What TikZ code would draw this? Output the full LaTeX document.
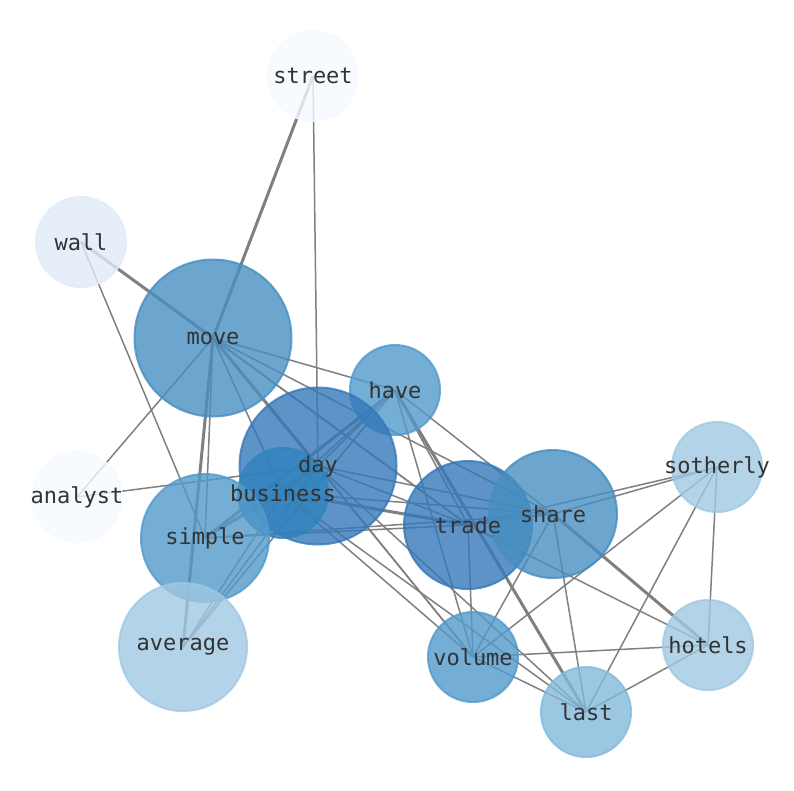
\documentclass[tikz,border=0pt]{standalone}
\usepackage{fontspec}
\setmonofont{DejaVu Sans Mono}
\usetikzlibrary{positioning,backgrounds}

\definecolor{palest}{RGB}{245,250,255}
\definecolor{pale}{RGB}{224,235,248}
\definecolor{light}{RGB}{160,200,226}
\definecolor{lastc}{RGB}{130,185,220}
\definecolor{midc}{RGB}{81,154,203}
\definecolor{movec}{RGB}{71,142,192}
\definecolor{deep}{RGB}{52,120,184}
\definecolor{busc}{RGB}{49,130,189}
\definecolor{edgec}{RGB}{128,128,128}

\begin{document}
\begin{tikzpicture}[x=1pt, y=-1pt]
        % Define styles
        \tikzstyle{word} = [circle, inner sep=0pt, line width=2pt,
            fill opacity=0.8, draw opacity=0.8]
        \tikzstyle{small} = [word, minimum size=90pt]
        \tikzstyle{medium} = [word, minimum size=128pt]
        \tikzstyle{large} = [word, minimum size=157pt]
        \tikzstyle{label} = [font=\ttfamily\fontsize{22}{22}\selectfont, text=black!80]
        \tikzstyle{link} = [draw=edgec, line width=1.5pt]
        \tikzstyle{heavy} = [draw=edgec, line width=3pt]

        \useasboundingbox (0,0) rectangle (794,790);

        % Nodes
        \node [small, fill=palest, draw=palest] (street) at (313,76) {};
        \node [small, fill=pale, draw=pale] (wall) at (81,242) {};
        \node [large, fill=movec, draw=movec] (move) at (213,338) {};
        \node [small, fill=palest, draw=palest] (analyst) at (77,497) {};
        \node [small, fill=midc, draw=midc] (have) at (395,390) {};
        \node [large, fill=deep, draw=deep] (day) at (318,466) {};
        \node [small, fill=busc, draw=busc] (business) at (283,493) {};
        \node [medium, fill=midc, draw=midc] (simple) at (205,538) {};
        \node [medium, fill=light, draw=light] (average) at (183,647) {};
        \node [medium, fill=deep, draw=deep] (trade) at (468,525) {};
        \node [medium, fill=movec, draw=movec] (share) at (553,514) {};
        \node [small, fill=light, draw=light] (sotherly) at (717,467) {};
        \node [small, fill=light, draw=light] (hotels) at (708,645) {};
        \node [small, fill=midc, draw=midc] (volume) at (473,657) {};
        \node [small, fill=lastc, draw=lastc] (last) at (586,712) {};

        % Labels
        \foreach \w in {street, wall, move, analyst, have, day, business, simple,
            average, trade, share, sotherly, hotels, volume, last}
            \node [label] (\w-text) at (\w) {\w};

        % Edges
        \begin{pgfonlayer}{background}
        \foreach \a/\b in {street/day, wall/trade, wall/simple, analyst/move,
            analyst/day, move/have, move/simple, move/trade, move/share,
            move/volume, move/business, have/day, have/business, have/average,
            have/trade, have/share, have/volume, day/business, day/simple,
            day/average, day/trade, day/share, day/volume, day/last,
            business/share, business/simple, business/average, business/volume,
            business/last, simple/trade, simple/share, trade/share,
            trade/volume, trade/hotels, trade/sotherly, share/sotherly,
            share/volume, share/last, sotherly/hotels, sotherly/volume,
            sotherly/last, hotels/volume, hotels/last, volume/last}
            \path [link] (\a.center) -- (\b.center);
        \foreach \a/\b in {street/move, wall/move, move/day, move/average,
            have/simple, have/last, business/trade, share/hotels}
            \path [heavy] (\a.center) -- (\b.center);
        \end{pgfonlayer}
    \end{tikzpicture}
\end{document}
